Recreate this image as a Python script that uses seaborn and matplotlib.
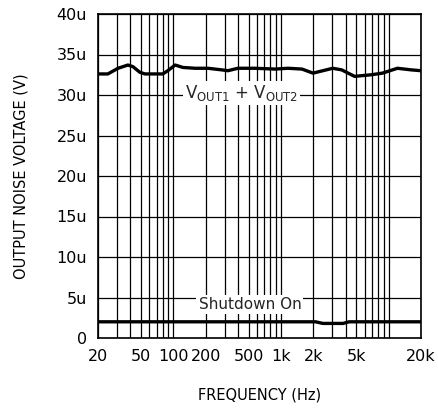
import numpy as np
import pandas as pd
import matplotlib
matplotlib.use("Agg")
import matplotlib.pyplot as plt
import seaborn as sns
from matplotlib.ticker import FixedLocator, NullLocator

# Data
freq_vout = [20, 24.7, 30.7, 37.9, 42.2, 49, 54.6, 80, 89, 104, 123, 160, 210, 283, 322, 398,
             572, 881, 1165, 1570, 1985, 3030, 3670, 4830, 6930, 8780, 12080, 16280, 20000]
noise_vout = [32.6, 32.6, 33.3, 33.7, 33.5, 32.8, 32.6, 32.6, 33.0, 33.7, 33.4, 33.3, 33.3, 33.1, 33.0, 33.3,
              33.3, 33.2, 33.3, 33.2, 32.7, 33.3, 33.1, 32.3, 32.5, 32.7, 33.3, 33.1, 33.0]
freq_sd = [20, 100, 1000, 2100, 2450, 3000, 3780, 4300, 10000, 20000]
noise_sd = [2.0, 2.0, 2.0, 2.0, 1.8, 1.8, 1.8, 2.0, 2.0, 2.0]

xtick_vals = [20, 50, 100, 200, 500, 1000, 2000, 5000, 20000]
xtick_labels = ["20", "50", "100", "200", "500", "1k", "2k", "5k", "20k"]
ytick_vals = [0, 5, 10, 15, 20, 25, 30, 35, 40]
ytick_labels = ["0", "5u", "10u", "15u", "20u", "25u", "30u", "35u", "40u"]

sns.set_theme(style="white")
plt.rcParams['font.family'] = ['DejaVu Sans']

fig = plt.figure(figsize=(4.38, 4.12), dpi=100)
ax = fig.add_axes([98/438, 74/412, 323/438, 324/412])

df1 = pd.DataFrame({"f": freq_vout, "v": noise_vout})
df2 = pd.DataFrame({"f": freq_sd, "v": noise_sd})
sns.lineplot(data=df1, x="f", y="v", ax=ax, color="black", lw=2.4, zorder=3)
sns.lineplot(data=df2, x="f", y="v", ax=ax, color="black", lw=2.4, zorder=3)

ax.set_xscale("log")
ax.set_xlim(20, 20000)
ax.set_ylim(0, 40)

# grid lines
minor = []
for dec in [10, 100, 1000, 10000]:
    for m in range(1, 10):
        v = dec * m
        if 20 <= v <= 20000:
            minor.append(v)
for v in minor:
    ax.axvline(v, color="black", lw=0.9, zorder=1)
for v in ytick_vals:
    ax.axhline(v, color="black", lw=0.9, zorder=1)

ax.xaxis.set_major_locator(FixedLocator(xtick_vals))
ax.xaxis.set_minor_locator(NullLocator())
ax.set_xticklabels(xtick_labels)
ax.set_yticks(ytick_vals)
ax.set_yticklabels(ytick_labels)
ax.tick_params(axis="both", length=0, labelsize=11.5, colors="black", pad=8)
for s in ax.spines.values():
    s.set_color("black")
    s.set_linewidth(1.2)

ax.set_xlabel("FREQUENCY (Hz)", fontsize=10.5, labelpad=17, color="black")
ax.set_ylabel("OUTPUT NOISE VOLTAGE (V)", fontsize=10.5, labelpad=20, color="black")

ax.text(430, 30.2, r"V$_{\mathrm{OUT1}}$ + V$_{\mathrm{OUT2}}$", fontsize=12, ha="center", va="center",
        bbox=dict(facecolor="white", edgecolor="none", pad=1.5), zorder=4)
ax.text(515, 4.1, "Shutdown On", fontsize=11, ha="center", va="center",
        bbox=dict(facecolor="white", edgecolor="none", pad=1.5), zorder=4)

fig.savefig("out.png", dpi=100)
